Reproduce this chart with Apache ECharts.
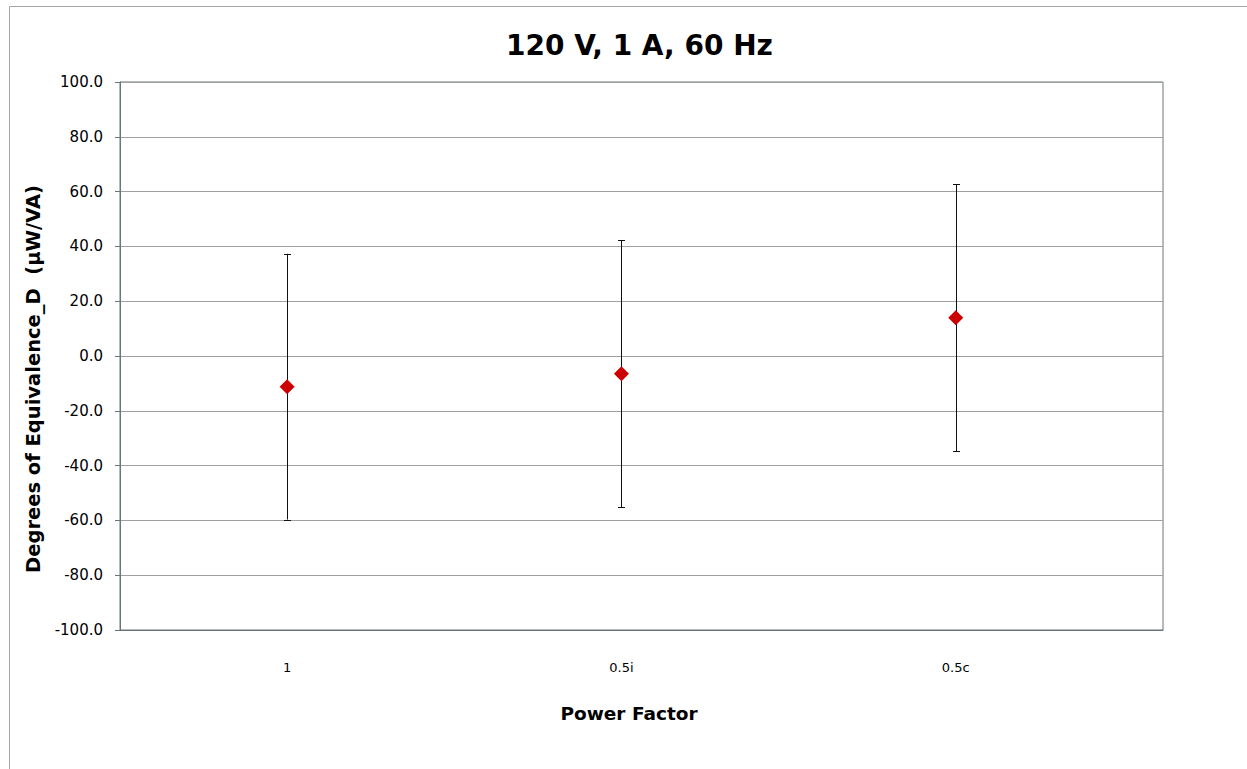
<!DOCTYPE html>
<html>
<head>
<meta charset="utf-8">
<script src="https://cdn.jsdelivr.net/npm/echarts@6/dist/echarts.min.js"></script>
<style>html,body{margin:0;padding:0;background:#fff;}#c{width:1247px;height:769px;}</style>
</head>
<body>
<div id="c"></div>
<script>
const categories = ['1', '0.5i', '0.5c'];
const xPositions = [1, 2, 3];
const values = [-11.2, -6.5, 14.0];
const errors = [48.5, 48.7, 48.7];
const titleText = '120 V, 1 A, 60 Hz';
const yName = 'Degrees of Equivalence_D  (\u00b5W/VA)';
const xName = 'Power Factor';

const font = '"DejaVu Sans", sans-serif';
const chart = echarts.init(document.getElementById('c'), null, {renderer: 'svg'});
const pts = xPositions.map((x, i) => [x, values[i]]);
const errData = xPositions.map((x, i) => [x, values[i] - errors[i], values[i] + errors[i]]);

chart.setOption({
  animation: false,
  backgroundColor: '#fff',
  graphic: [{
    type: 'rect', shape: {x: 9.5, y: 6.5, width: 1300, height: 820},
    style: {fill: 'none', stroke: '#a6a6a6', lineWidth: 1}, silent: true
  }],
  title: {
    text: titleText, left: 501, top: 26,
    textStyle: {fontFamily: font, fontWeight: 'bold', fontSize: 28, color: '#000'}
  },
  grid: {left: 120, right: 84, top: 82, bottom: 139, show: true, borderColor: '#6b747b', borderWidth: 1, backgroundColor: 'transparent'},
  xAxis: {
    type: 'value', min: 0.5, max: 3.62,
    name: xName, nameLocation: 'middle', nameGap: 74,
    nameTextStyle: {fontFamily: font, fontWeight: 'bold', fontSize: 18.5, color: '#000', padding: [0, 25, 0, 0]},
    axisLine: {show: true, onZero: false, lineStyle: {color: '#6b747b'}},
    axisTick: {show: false},
    splitLine: {show: false},
    axisLabel: {
      customValues: xPositions, margin: 31,
      formatter: v => categories[xPositions.indexOf(Math.round(v))] || '',
      fontFamily: font, fontSize: 13, color: '#000'
    }
  },
  yAxis: {
    type: 'value', min: -100, max: 100, interval: 20,
    name: yName, nameLocation: 'middle', nameGap: 75,
    nameTextStyle: {fontFamily: font, fontWeight: 'bold', fontSize: 19.5, color: '#000', padding: [0, 46, 0, 0]},
    axisLine: {show: true, lineStyle: {color: '#6b747b'}},
    axisTick: {show: true, length: 5, lineStyle: {color: '#6b747b'}},
    splitLine: {show: true, lineStyle: {color: '#a0a0a0', width: 1}},
    axisLabel: {formatter: v => v.toFixed(1), fontFamily: font, fontSize: 15, color: '#000', margin: 17}
  },
  series: [
    {
      type: 'custom',
      data: errData,
      z: 2,
      renderItem: function (params, api) {
        const x = api.value(0);
        const lo = api.coord([x, api.value(1)]);
        const hi = api.coord([x, api.value(2)]);
        const cx = Math.round(lo[0]) + 0.5;
        const w = 3.5;
        const style = {stroke: '#111', lineWidth: 1};
        return {
          type: 'group',
          children: [
            {type: 'line', shape: {x1: cx, y1: hi[1], x2: cx, y2: lo[1]}, style: style},
            {type: 'line', shape: {x1: cx - w, y1: Math.round(hi[1]) + 0.5, x2: cx + w, y2: Math.round(hi[1]) + 0.5}, style: style},
            {type: 'line', shape: {x1: cx - w, y1: Math.round(lo[1]) + 0.5, x2: cx + w, y2: Math.round(lo[1]) + 0.5}, style: style}
          ]
        };
      }
    },
    {
      type: 'scatter',
      data: pts,
      z: 3,
      symbol: 'diamond',
      symbolSize: [15, 15],
      itemStyle: {color: '#cc0000', opacity: 1}
    }
  ]
});
</script>
</body>
</html>
